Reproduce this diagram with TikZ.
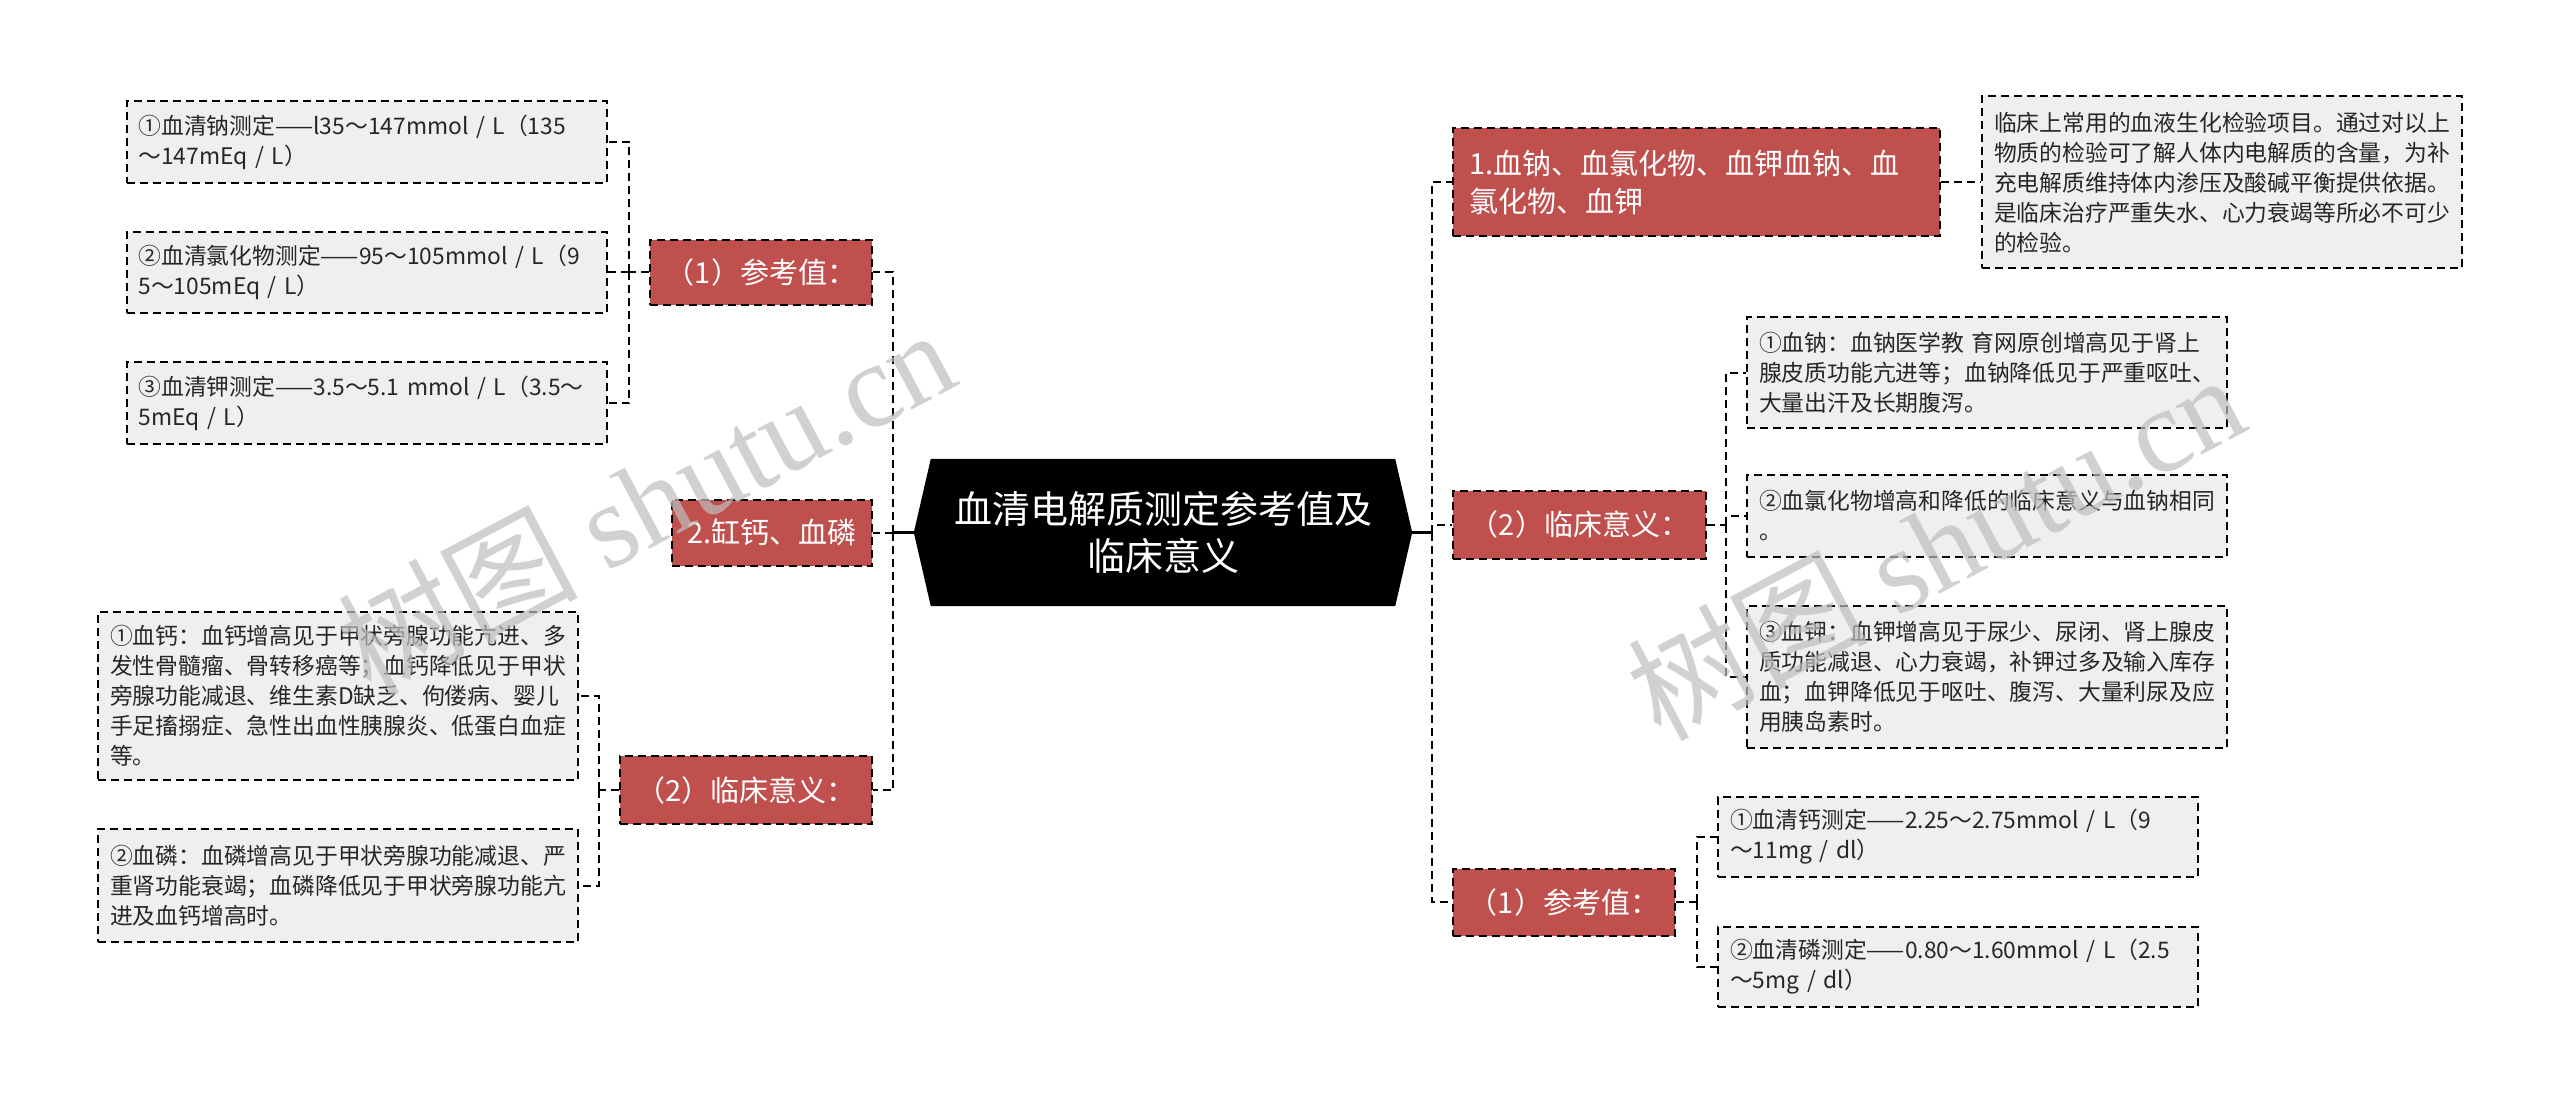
\documentclass[tikz,border=0pt]{standalone}
\usepackage{fontspec}
\setmainfont{Noto Sans CJK SC}
\newfontfamily\wmserif{Liberation Serif}
\usetikzlibrary{backgrounds}
\definecolor{redbox}{RGB}{192,80,77}
\definecolor{graybox}{RGB}{239,239,239}
\definecolor{wmcol}{RGB}{190,190,190}
\begin{document}
\begin{tikzpicture}[x=1pt,y=-1pt,
  dsh/.style={line width=2pt, dash pattern=on 8pt off 5pt},
  gbox/.style={dsh, draw=black, fill=graybox, text=black!85, align=left, text width=456pt, inner xsep=12pt, inner ysep=0pt, minimum width=480pt, font=\fontsize{22.8}{30}\selectfont, anchor=center},
  rbox/.style={dsh, draw=black, fill=redbox, text=white, inner sep=0pt, align=center, font=\fontsize{29}{38}\selectfont, anchor=center},
  conn/.style={dsh, draw=black},
  solidconn/.style={line width=2.5pt, draw=black},
  wmark/.style={text=wmcol, opacity=0.7, rotate=28, font=\fontsize{120}{120}\selectfont}
]
\useasboundingbox (0,0) rectangle (2560,1107);

% central node
\node[font=\fontsize{38}{47}\selectfont, text=white, align=center, minimum width=498pt, minimum height=147pt, inner sep=0pt] (C) at (1163,532.5) {血清电解质测定参考值及\\临床意义};
\begin{scope}[on background layer]
  \fill[white] (0,0) rectangle (2560,1107);
  \fill[black] (C.west) -- ([xshift=17pt]C.north west) -- ([xshift=-17pt]C.north east) -- (C.east) -- ([xshift=-17pt]C.south east) -- ([xshift=17pt]C.south west) -- cycle;
\end{scope}

% left branch nodes
\node[rbox, minimum width=222pt, minimum height=65pt] (LR1) at (761,272.5) {（1）参考值：};
\node[rbox, minimum width=200pt, minimum height=66pt] (LR2) at (772,532.5) {2.缸钙、血磷};
\node[rbox, minimum width=252pt, minimum height=68pt] (LR3) at (746,790) {（2）临床意义：};

\node[gbox, minimum height=82pt] (L1) at (366.5,142) {①血清钠测定——l35～147mmol / L（135\\～147mEq / L）};
\node[gbox, minimum height=81pt] (L2) at (366.5,272.5) {②血清氯化物测定——95～105mmol / L（9\\5～105mEq / L）};
\node[gbox, minimum height=82pt] (L3) at (366.5,403) {③血清钾测定——3.5～5.1 mmol / L（3.5～\\5mEq / L）};
\node[gbox, minimum height=168pt] (L4) at (338,696) {①血钙：血钙增高见于甲状旁腺功能亢进、多\\发性骨髓瘤、骨转移癌等；血钙降低见于甲状\\旁腺功能减退、维生素D缺乏、佝偻病、婴儿\\手足搐搦症、急性出血性胰腺炎、低蛋白血症\\等。};
\node[gbox, minimum height=113pt] (L5) at (338,885.5) {②血磷：血磷增高见于甲状旁腺功能减退、严\\重肾功能衰竭；血磷降低见于甲状旁腺功能亢\\进及血钙增高时。};

% right branch nodes
\node[rbox, align=left, text width=455pt, inner xsep=16pt, minimum width=487pt, minimum height=108pt] (R1) at (1696.5,182.5) {1.血钠、血氯化物、血钾血钠、血\\氯化物、血钾};
\node[rbox, minimum width=253pt, minimum height=68pt] (R2) at (1579.5,524.5) {（2）临床意义：};
\node[rbox, minimum width=222pt, minimum height=67pt] (R4) at (1564,902) {（1）参考值：};

\node[gbox, minimum height=172pt] (R1c) at (2222,182.5) {临床上常用的血液生化检验项目。通过对以上\\物质的检验可了解人体内电解质的含量，为补\\充电解质维持体内渗压及酸碱平衡提供依据。\\是临床治疗严重失水、心力衰竭等所必不可少\\的检验。};
\node[gbox, minimum height=111pt] (R2a) at (1987,372.5) {①血钠：血钠医学教 育网原创增高见于肾上\\腺皮质功能亢进等；血钠降低见于严重呕吐、\\大量出汗及长期腹泻。};
\node[gbox, minimum height=82pt] (R2b) at (1987,516) {②血氯化物增高和降低的临床意义与血钠相同\\。};
\node[gbox, minimum height=142pt] (R2c) at (1987,677) {③血钾：血钾增高见于尿少、尿闭、肾上腺皮\\质功能减退、心力衰竭，补钾过多及输入库存\\血；血钾降低见于呕吐、腹泻、大量利尿及应\\用胰岛素时。};
\node[gbox, minimum height=80pt] (R4a) at (1958,837) {①血清钙测定——2.25～2.75mmol / L（9\\～11mg / dl）};
\node[gbox, minimum height=80pt] (R4b) at (1958,967) {②血清磷测定——0.80～1.60mmol / L（2.5\\～5mg / dl）};

% bus coordinates
\coordinate (LB) at (893,532.5);
\coordinate (LB1) at (629,272.5);
\coordinate (LB3) at (599,790);
\coordinate (RB) at (1432,532.5);
\coordinate (RB2) at (1726,524.5);
\coordinate (RB4) at (1697,902);

% connectors
\draw[solidconn] (C.west) -- (LB);
\draw[solidconn] (C.east) -- (RB);

\draw[conn] (LB) |- (LR1.east);
\draw[conn] (LB) |- (LR2.east);
\draw[conn] (LB) |- (LR3.east);

\draw[conn] (LR1.west) -- (LB1);
\draw[conn] (LB1) |- (L1.east);
\draw[conn] (LB1) |- (L2.east);
\draw[conn] (LB1) |- (L3.east);

\draw[conn] (LR3.west) -- (LB3);
\draw[conn] (LB3) |- (L4.east);
\draw[conn] (LB3) |- (L5.east);

\draw[conn] (RB) |- (R1.west);
\draw[conn] (RB) |- (R2.west);
\draw[conn] (RB) |- (R4.west);

\draw[conn] (R1.east) -- (R1c.west);

\draw[conn] (R2.east) -- (RB2);
\draw[conn] (RB2) |- (R2a.west);
\draw[conn] (RB2) |- (R2b.west);
\draw[conn] (RB2) |- (R2c.west);

\draw[conn] (R4.east) -- (RB4);
\draw[conn] (RB4) |- (R4a.west);
\draw[conn] (RB4) |- (R4b.west);

% watermarks
\node[wmark] (WM1) at (645,500) {树图 {\wmserif shutu.cn}};
\node[wmark] (WM2) at (1935,545) {树图 {\wmserif shutu.cn}};
\end{tikzpicture}
\end{document}
